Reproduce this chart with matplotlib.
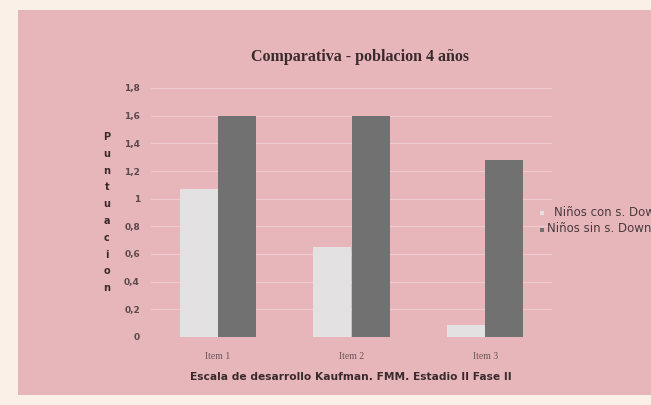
import matplotlib.pyplot as plt
import matplotlib.patches as mpatches
import numpy as np

# Data
items = ['Item 1', 'Item 2', 'Item 3']
con_down = [1.07, 0.65, 0.09]
sin_down = [1.60, 1.60, 1.28]
series_names = ['Niños con s. Down', 'Niños sin s. Down']
y_ticks = [0, 0.2, 0.4, 0.6, 0.8, 1, 1.2, 1.4, 1.6, 1.8]
y_tick_labels = ['0', '0,2', '0,4', '0,6', '0,8', '1', '1,2', '1,4', '1,6', '1,8']
y_label = 'Puntuacion'

W, H = 651, 405
fig = plt.figure(figsize=(W / 100, H / 100), dpi=100)
fig.patch.set_facecolor('#fbf0e8')

# pink panel behind the chart
panel = mpatches.Rectangle((18 / W, 10 / H), 1 - 18 / W, (395 - 10) / H,
                           transform=fig.transFigure, facecolor='#e7b6bb',
                           edgecolor='none', zorder=-5)
fig.patches.append(panel)

# plot area: x 151..552 px, y 88..337 px (1.8 -> 0)
ax = fig.add_axes([151 / W, (H - 337) / H, (552 - 151) / W, (337 - 88) / H])
ax.set_facecolor('none')

x = np.arange(len(items))
bw = 0.285
ax.bar(x - bw / 2, con_down, width=bw, color='#e3e1e1', zorder=2)
ax.bar(x + bw / 2, sin_down, width=bw, color='#717171', zorder=2)

ax.set_xlim(-0.5, 2.5)
ax.set_ylim(0, 1.8)
ax.set_yticks(y_ticks)
ax.set_yticklabels(y_tick_labels, fontsize=6.5, color='#5a4a4c', fontweight='bold')
ax.set_xticks(x)
ax.set_xticklabels(items, fontsize=7, family='Liberation Serif', color='#6a5558')
ax.tick_params(axis='y', length=0, pad=8)
ax.tick_params(axis='x', length=0, pad=11)
for yv in y_ticks:
    ax.axhline(yv, color='#ecccd0', lw=0.8, zorder=1)
for s in ax.spines.values():
    s.set_visible(False)

# title and axis labels
fig.text(360 / W, 1 - 57 / H, 'Comparativa - poblacion 4 años', ha='center', va='center',
         fontsize=11.5, fontweight='bold', family='Liberation Serif', color='#3a2a2c')
fig.text(351 / W, 1 - 377 / H, 'Escala de desarrollo Kaufman. FMM. Estadio II Fase II',
         ha='center', va='center', fontsize=7.7, fontweight='bold', color='#3a2a2c')
# stacked vertical letters for the y label
for i, ch in enumerate(y_label):
    fig.text(107 / W, 1 - (137 + 16.8 * i) / H, ch, ha='center', va='center',
             fontsize=7, fontweight='bold', color='#3a2a2c')

# legend (clipped by the right edge as in the reference)
leg_colors = ['#e3e1e1', '#717171']
text_x = [554, 547]
for i, (name, col) in enumerate(zip(series_names, leg_colors)):
    yy = 1 - (212 + 17 * i) / H
    fig.patches.append(mpatches.Rectangle((540 / W, yy - 2.5 / H), 4 / W, 4 / H,
                                          transform=fig.transFigure, facecolor=col,
                                          edgecolor='none'))
    fig.text(text_x[i] / W, yy, name, ha='left', va='center', fontsize=8.5, color='#4a3a3c')

fig.savefig('out.png', dpi=100, facecolor=fig.get_facecolor())
